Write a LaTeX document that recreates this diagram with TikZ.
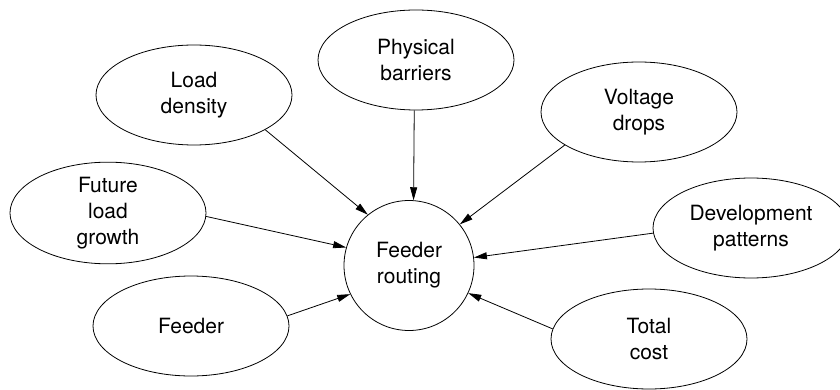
\documentclass[tikz,border=0pt]{standalone}
\usepackage{fontspec}
\setmainfont{TeX Gyre Heros}
\usetikzlibrary{shapes.geometric,arrows.meta}
\tikzset{
  factor/.style={ellipse,draw,line width=0.8pt,inner sep=0pt,minimum width=196pt,minimum height=100pt,align=center,font=\fontsize{21}{26}\selectfont},
  hub/.style={circle,draw,line width=0.8pt,inner sep=0pt,minimum size=130pt,align=center,font=\fontsize{21}{26}\selectfont},
  link/.style={line width=0.8pt,-{Triangle[length=13pt,width=7pt]}}
}
\begin{document}
\begin{tikzpicture}[x=1pt,y=1pt]
\useasboundingbox (0,0) rectangle (840,-390);
\node[hub] (fr) at (409,-265.5) {Feeder\\routing};
\node[factor] (pb) at (416,-60) {Physical\\barriers};
\node[factor] (ld) at (194,-95) {Load\\density};
\node[factor] (vd) at (639,-112) {Voltage\\drops};
\node[factor] (flg) at (108,-213) {Future\\load\\growth};
\node[factor] (fd) at (191,-326) {Feeder};
\node[factor] (dp) at (751,-228) {Development\\patterns};
\node[factor] (tc) at (649,-339) {Total\\cost};
\draw[link] (pb.-92) -- (fr.86);
\draw[link] (ld.-26.3) -- (fr.129.2);
\draw[link] (vd.-156.5) -- (fr.39.8);
\draw[link] (flg.-2.9) -- (fr.164.2);
\draw[link] (fd.6.5) -- (fr.-154.2);
\draw[link] (dp.-177.1) -- (fr.7.6);
\draw[link] (tc.174.7) -- (fr.-25.8);
\end{tikzpicture}
\end{document}
